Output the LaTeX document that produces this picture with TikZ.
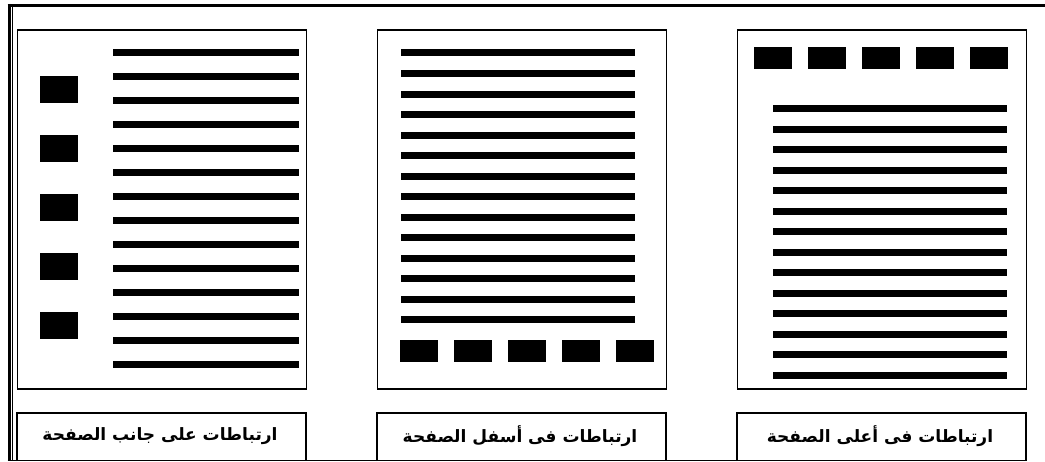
\documentclass[tikz,border=0pt]{standalone}
\usepackage{fontspec}
\TeXXeTstate=1
\newfontfamily\arabicfont[Script=Arabic]{DejaVu Sans}
\begin{document}
\begin{tikzpicture}[x=1pt,y=-1pt,
  panel/.style={draw=black,line width=1.6pt},
  labelbox/.style={draw=black,line width=1.6pt},
  txtline/.style={line width=7pt},
  linkbox/.style={fill=black},
  captext/.style={font=\arabicfont\bfseries\fontsize{17}{19}\selectfont}]
\useasboundingbox (0,0) rectangle (1045,462);
% outer frame
\draw[line width=3.3pt] (7.5,5.5) -- (1045,5.5);
\draw[line width=3pt] (9,4) -- (9,461);
\draw[line width=0.8pt] (12,7) -- (12,461);
\draw[line width=1.2pt] (7.5,460.8) -- (1027,460.8);
% panels
\node[panel,minimum width=289pt,minimum height=359pt,inner sep=0pt,anchor=north west] (pL) at (16.7,29) {};
\node[panel,minimum width=289pt,minimum height=359pt,inner sep=0pt,anchor=north west] (pM) at (376.7,29) {};
\node[panel,minimum width=289pt,minimum height=359pt,inner sep=0pt,anchor=north west] (pR) at (736.7,29) {};
% label boxes (open at bottom, sitting on frame line)
\draw[labelbox] (16.7,461) -- (16.7,413) -- (305.7,413) -- (305.7,461);
\draw[labelbox] (376.7,461) -- (376.7,413) -- (665.7,413) -- (665.7,461);
\draw[labelbox] (736.7,461) -- (736.7,413) -- (1025.7,413) -- (1025.7,461);
\node[captext] (tL) at (160,436.5) {\beginR ارتباطات على جانب الصفحة\endR};
\node[captext] (tM) at (520,436.5) {\beginR ارتباطات فى أسفل الصفحة\endR};
\node[captext] (tR) at (880,436.5) {\beginR ارتباطات فى أعلى الصفحة\endR};
% left panel: text lines and side links
\foreach \k in {0,...,13} \draw[txtline] (113,53+24*\k) -- (299,53+24*\k);
\foreach \k in {0,...,4} \fill[linkbox] (40,76+59*\k) rectangle (78,102.7+59*\k);
% middle panel
\foreach \k in {0,...,13} \draw[txtline] (401,53+20.52*\k) -- (635.3,53+20.52*\k);
\foreach \k in {0,...,4} \fill[linkbox] (400+54.1*\k,340) rectangle (438+54.1*\k,361.7);
% right panel
\foreach \k in {0,...,13} \draw[txtline] (773.3,108.5+20.54*\k) -- (1007.3,108.5+20.54*\k);
\foreach \k in {0,...,4} \fill[linkbox] (754.3+54*\k,46.7) rectangle (792.3+54*\k,68.7);
\end{tikzpicture}
\end{document}
